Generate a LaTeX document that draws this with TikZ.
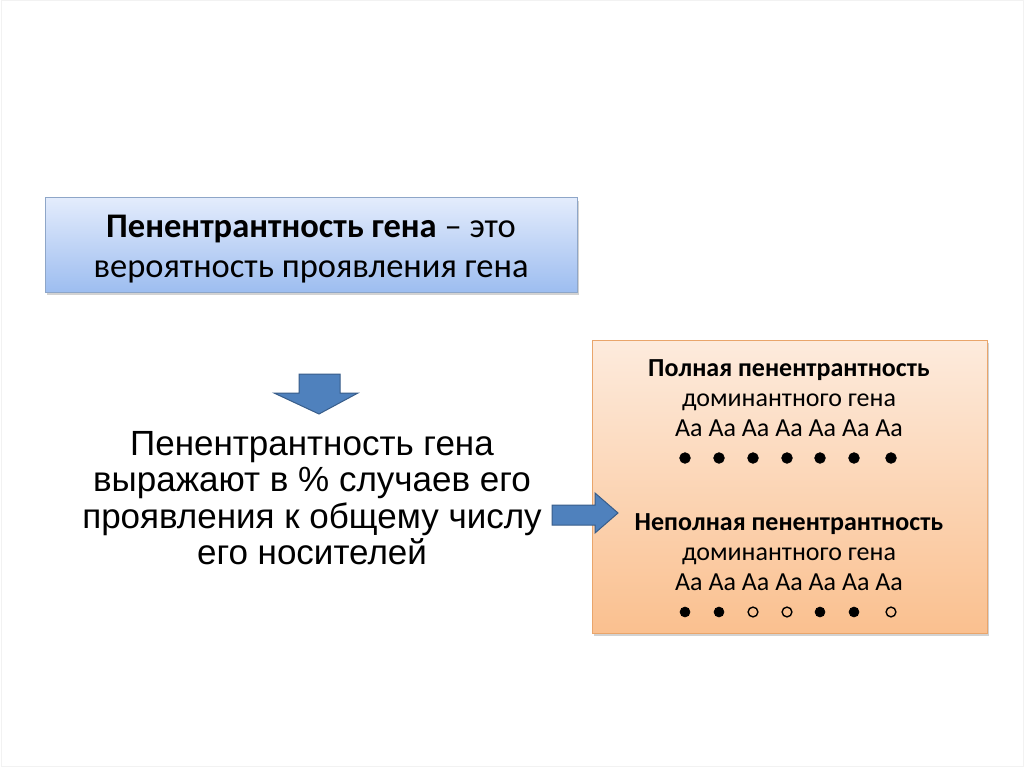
\documentclass[tikz,border=0pt]{standalone}
\usepackage{fontspec}
\setmainfont{Carlito}
\newfontfamily\arialf{Liberation Sans}
\usetikzlibrary{shadows}
\definecolor{bluetop}{HTML}{E3ECFC}
\definecolor{bluebot}{HTML}{9DBDF0}
\definecolor{blueedge}{HTML}{8EA6C8}
\definecolor{orgtop}{HTML}{FDEBDD}
\definecolor{orgbot}{HTML}{FAC08F}
\definecolor{orgedge}{HTML}{E9A56B}
\definecolor{arrowfill}{HTML}{4F81BD}
\definecolor{arrowedge}{HTML}{385D8A}
\tikzset{
  x=1pt, y=-1pt,
  bluebox/.style={draw=blueedge, line width=1pt, top color=bluetop, bottom color=bluebot,
    drop shadow={shadow xshift=2pt, shadow yshift=-3pt, opacity=0.35, fill=gray}},
  orgbox/.style={draw=orgedge, line width=1pt, top color=orgtop, bottom color=orgbot,
    drop shadow={shadow xshift=2pt, shadow yshift=-3pt, opacity=0.35, fill=gray}},
  bigarrow/.style={fill=arrowfill, draw=arrowedge, line width=1pt, line join=miter},
  txt/.style={inner sep=0pt, align=center},
  full/.style={fill=black, draw=black, line width=0.8pt},
  empty/.style={fill=none, draw=black, line width=1.4pt}
}
\begin{document}
\begin{tikzpicture}
\useasboundingbox (0,0) rectangle (1024,767);
\fill[white] (0,0) rectangle (1024,767);
\draw[gray!10, line width=1pt] (1,1) rectangle (1023,766);

% top definition box
\path[bluebox] (45,198) rectangle (577,292);
\node[txt, font=\fontsize{34.5}{40}\selectfont] (def) at (311,249)
  {\textbf{Пенентрантность гена} – это\\вероятность проявления гена};

% down arrow
\draw[bigarrow] (299,374) -- (340,374) -- (340,393) -- (358,393) -- (319,414)
  -- (274,393) -- (299,393) -- cycle;
\coordinate (dtip) at (319,414);

% middle text
\node[txt, font=\arialf\fontsize{35}{36.5}\selectfont] (mid) at (312,498)
  {Пенентрантность гена\\выражают в \% случаев его\\проявления к общему числу\\его носителей};

% orange box
\path[orgbox] (592,340) rectangle (987,633);
\node[txt, font=\fontsize{26}{30}\selectfont] (full) at (789,398)
  {\textbf{Полная пенентрантность}\\доминантного гена\\Aa Aa Aa Aa Aa Aa Aa};
\node[txt, font=\fontsize{26}{30}\selectfont] (part) at (789,552)
  {\textbf{Неполная пенентрантность}\\доминантного гена\\Aa Aa Aa Aa Aa Aa Aa};

% dots row 1
\foreach \x in {685,719,753,787,820,854,891}
  \path[full] (\x,458) circle (5.3);
% dots row 2
\foreach \x/\s in {685/full,719/full,753/empty,787/empty,820/full,854/full,891/empty}
  \path[\s] (\x,612) circle (4.9);

% right arrow
\draw[bigarrow] (552,505) -- (595,505) -- (595,493) -- (618,513) -- (595,533)
  -- (595,525) -- (552,525) -- cycle;
\end{tikzpicture}
\end{document}
